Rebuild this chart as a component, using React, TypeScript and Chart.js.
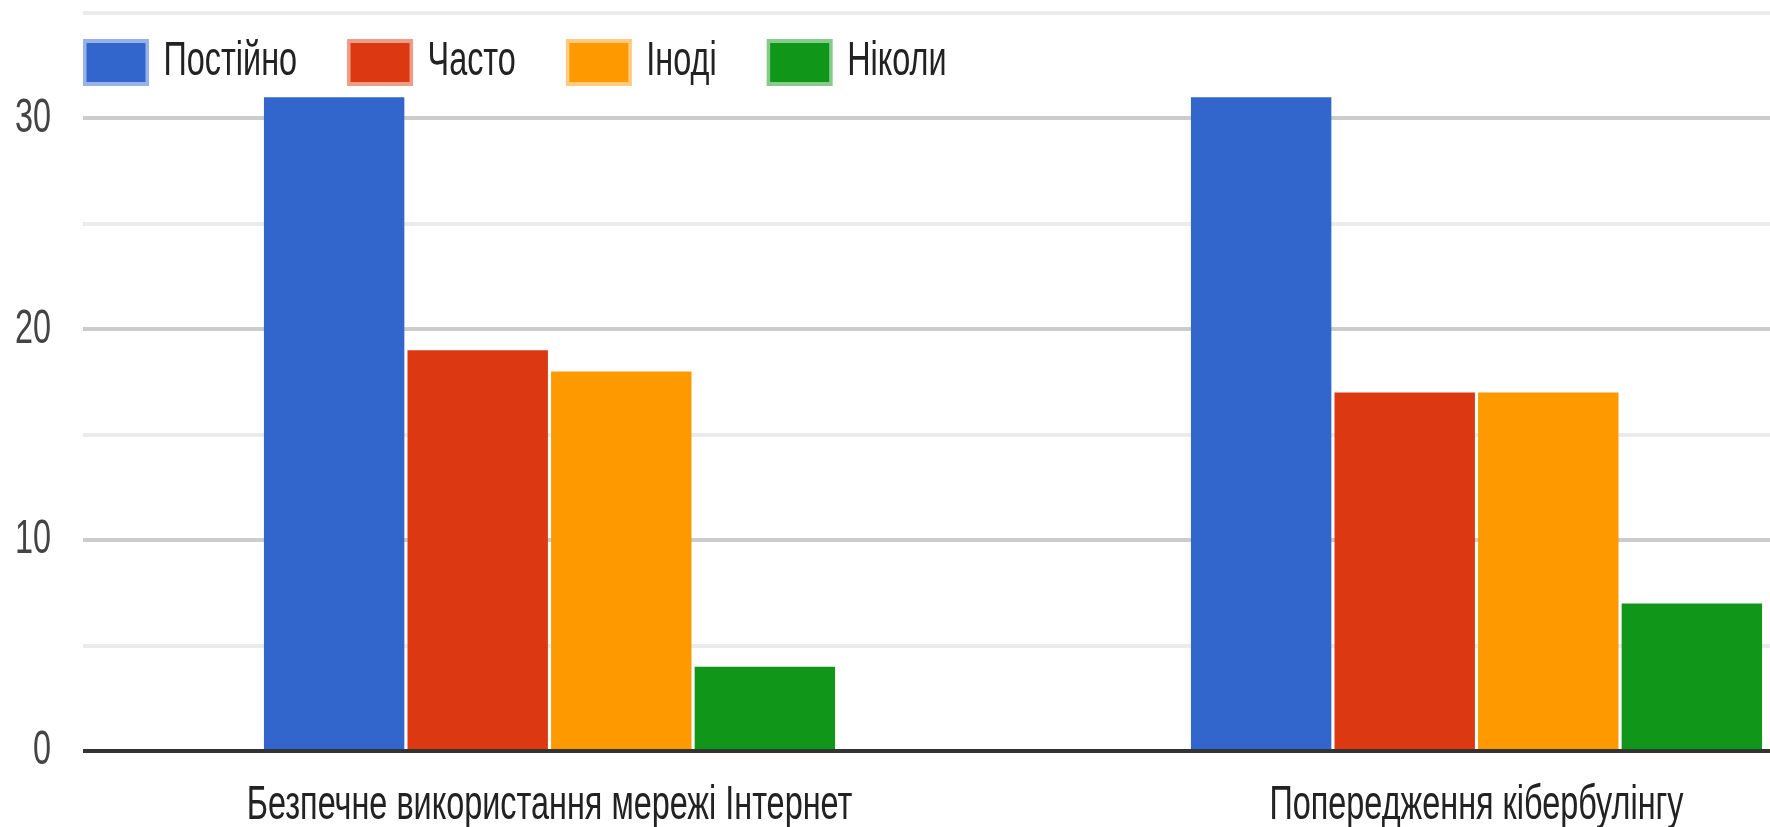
import React, { useEffect, useRef } from 'react';
import { Chart, registerables } from 'chart.js';

Chart.register(...registerables);

// ---- data ----
const categories = ['Безпечне використання мережі Інтернет', 'Попередження кібербулінгу'];
const seriesNames = ['Постійно', 'Часто', 'Іноді', 'Ніколи'];
const postiyno = [31, 31];
const chasto = [19, 17];
const inodi = [18, 17];
const nikoly = [4, 7];
const yLabeledTicks = [0, 10, 20, 30];
const yMax = 35;
const yStep = 5;

// ---- styles ----
const seriesColors = ['#3366CC', '#DC3912', '#FF9900', '#109618'];
const seriesTints = ['#99B2E5', '#ED9C88', '#FFCC7F', '#87CA8B'];
const FONT = "'Liberation Sans', Arial, sans-serif";
const FONT_SIZE = 48;
const TEXT_SQUEEZE = 0.675; // horizontal text condensation seen in the reference

const insideLegend = {
  id: 'insideLegend',
  afterDraw(chart: any) {
    const ctx = chart.ctx;
    ctx.save();
    ctx.font = `${FONT_SIZE}px ${FONT}`;
    ctx.textBaseline = 'middle';
    ctx.textAlign = 'left';
    const boxW = 66;
    const boxH = 47;
    const boxTop = 39;
    const textY = 62;
    let x = chart.chartArea.left - 3;
    chart.data.datasets.forEach((ds: any) => {
      ctx.fillStyle = ds.borderColor;
      ctx.fillRect(x, boxTop, boxW, boxH);
      ctx.fillStyle = ds.backgroundColor;
      ctx.fillRect(x + 3.5, boxTop + 4, boxW - 7, boxH - 8);
      ctx.fillStyle = '#222222';
      const tx = x + boxW + 14.5;
      ctx.fillText(ds.label, tx, textY);
      x = tx + ctx.measureText(ds.label).width * TEXT_SQUEEZE + 50;
    });
    ctx.restore();
  },
};

function condenseText(ctx: any) {
  const orig = CanvasRenderingContext2D.prototype.fillText;
  ctx.fillText = function (text: string, x: number, y: number, maxWidth?: number) {
    this.save();
    this.translate(x * (1 - TEXT_SQUEEZE), 0);
    this.scale(TEXT_SQUEEZE, 1);
    if (maxWidth === undefined || maxWidth === null) orig.call(this, text, x, y);
    else orig.call(this, text, x, y, maxWidth / TEXT_SQUEEZE);
    this.restore();
  };
  return () => {
    delete ctx.fillText;
  };
}

export default function App() {
  const canvasRef = useRef<HTMLCanvasElement | null>(null);

  useEffect(() => {
    const canvas = canvasRef.current;
    if (!canvas) return;
    const ctx = canvas.getContext('2d');
    const undo = condenseText(ctx);
    const values = [postiyno, chasto, inodi, nikoly];
    const chart = new Chart(canvas, {
      type: 'bar',
      data: {
        labels: categories,
        datasets: seriesNames.map((name, i) => ({
          label: name,
          data: values[i],
          backgroundColor: seriesColors[i],
          borderColor: seriesTints[i],
          borderWidth: 0,
        })),
      },
      options: {
        responsive: false,
        animation: false,
        events: [],
        devicePixelRatio: 1,
        layout: { padding: { top: 13, left: 0, right: 0, bottom: 0 } },
        datasets: { bar: { barPercentage: 0.978, categoryPercentage: 0.6195 } },
        plugins: {
          legend: { display: false },
          tooltip: { enabled: false },
        },
        scales: {
          x: {
            offset: true,
            grid: { display: false, drawTicks: false },
            border: { display: true, color: '#333333', width: 4 },
            ticks: {
              color: '#222222',
              font: { family: FONT, size: FONT_SIZE },
              padding: 26,
              autoSkip: false,
              maxRotation: 0,
              minRotation: 0,
            },
            afterFit: (s: any) => {
              s.height = 76;
              s.paddingLeft = 0;
              s.paddingRight = 0;
            },
          },
          y: {
            min: 0,
            max: yMax,
            ticks: {
              stepSize: yStep,
              color: '#444444',
              font: { family: FONT, size: FONT_SIZE },
              padding: 32,
              callback: (v: any) => (yLabeledTicks.includes(Number(v)) ? String(v) : ''),
            },
            grid: {
              color: (c: any) => {
                const v = c.tick ? c.tick.value : 1;
                if (v === 0) return '#333333';
                return v % 10 === 0 ? '#CCCCCC' : '#EBEBEB';
              },
              lineWidth: 4,
              drawTicks: true,
              tickLength: 3,
            },
            border: { display: false },
            afterFit: (s: any) => {
              s.width = 86;
              s.paddingTop = 0;
              s.paddingBottom = 0;
            },
          },
        },
      },
      plugins: [insideLegend],
    });
    return () => {
      chart.destroy();
      undo();
    };
  }, []);

  return (
    <div style={{ position: 'absolute', left: 0, top: 0, width: 1770, height: 827, overflow: 'hidden', background: '#ffffff' }}>
      <canvas ref={canvasRef} width={1940} height={827} style={{ display: 'block' }} />
    </div>
  );
}
